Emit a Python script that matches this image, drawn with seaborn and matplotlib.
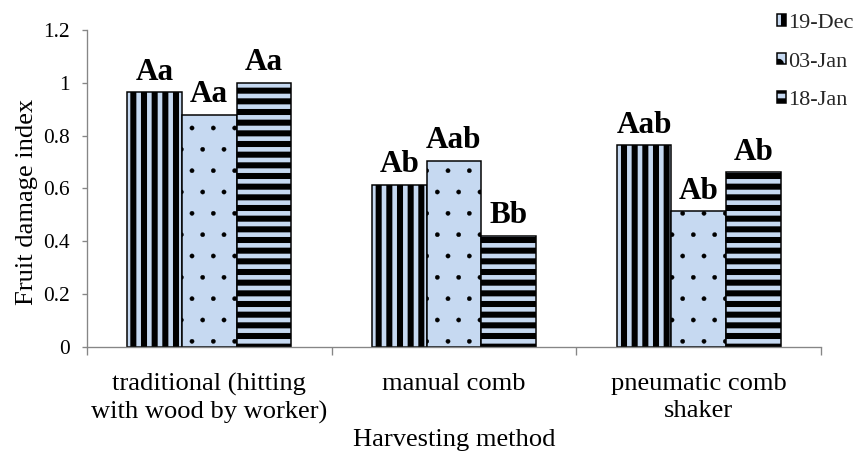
import numpy as np
import pandas as pd
import matplotlib
matplotlib.use("Agg")
import matplotlib.pyplot as plt
import seaborn as sns
from matplotlib.patches import Patch

# ---------------- data ----------------
methods = ["traditional (hitting\nwith wood by worker)", "manual comb", "pneumatic comb\nshaker"]
dates = ["19-Dec", "03-Jan", "18-Jan"]
dec19 = [0.965, 0.615, 0.765]
jan03 = [0.879, 0.705, 0.513]
jan18 = [1.001, 0.421, 0.662]
letters_dec19 = ["Aa", "Ab", "Aab"]
letters_jan03 = ["Aa", "Aab", "Ab"]
letters_jan18 = ["Aa", "Bb", "Ab"]
yticks = [0, 0.2, 0.4, 0.6, 0.8, 1.0, 1.2]
ytick_labels = ["0", "0.2", "0.4", "0.6", "0.8", "1", "1.2"]

df = pd.DataFrame({
    "method": methods * 3,
    "date": [dates[0]] * 3 + [dates[1]] * 3 + [dates[2]] * 3,
    "value": dec19 + jan03 + jan18,
})

# ---------------- style ----------------
sns.set_theme(style="white")
plt.rcParams["font.family"] = ["Liberation Serif", "DejaVu Serif"]
plt.rcParams["hatch.linewidth"] = 3.4
plt.rcParams["hatch.color"] = "black"

DPI = 128
FILL = "#C6D9F1"
GREY = "#868686"
hatches = ["||", ".", "--"]
hatch_lw = [3.4, 0.2, 3.4]

fig = plt.figure(figsize=(856 / DPI, 451 / DPI), dpi=DPI)
ax = fig.add_axes([0.1016, 0.2306, 0.8575, 0.7029])

sns.barplot(data=df, x="method", y="value", hue="date", order=methods,
            hue_order=dates, palette=[FILL] * 3, saturation=1,
            edgecolor="black", linewidth=0.85, width=0.67,
            errorbar=None, ax=ax)

letters = [letters_dec19, letters_jan03, letters_jan18]
for cont, h, hl, labs in zip(ax.containers, hatches, hatch_lw, letters):
    for bar in cont:
        bar.set_hatch(h)
        if hasattr(bar, "set_hatch_linewidth"):
            bar.set_hatch_linewidth(hl)
    ax.bar_label(cont, labels=labs, padding=3.0, fontsize=17.5,
                 fontweight="bold", color="black")

if ax.get_legend() is not None:
    ax.get_legend().remove()

handles = []
for h, hl in zip(hatches, hatch_lw):
    p = Patch(facecolor=FILL, edgecolor="black", hatch=h, linewidth=0.85)
    if hasattr(p, "set_hatch_linewidth"):
        p.set_hatch_linewidth(hl)
    handles.append(p)
fig.legend(handles, dates, loc="upper left",
           bbox_to_anchor=(777 / 856, 1 - 14 / 451), frameon=False,
           fontsize=12.5, handlelength=0.42, handleheight=0.42,
           handletextpad=0.1, labelspacing=0.88, borderpad=0,
           borderaxespad=0)

# axes
ax.set_xlim(-0.5, 2.5)
ax.set_ylim(0, 1.2)
ax.set_yticks(yticks)
ax.set_yticklabels(ytick_labels)
ax.set_xticks([0, 1, 2])
ax.set_xticklabels(methods, linespacing=1.3)
ax.set_xticks([-0.5, 0.5, 1.5, 2.5], minor=True)
ax.tick_params(axis="x", which="major", length=0, pad=14.5, labelsize=14.9,
               labelcolor="black")
ax.tick_params(axis="x", which="minor", length=4.5, width=0.75, color=GREY,
               direction="out", bottom=True)
ax.tick_params(axis="y", which="major", length=2.8, width=0.75, color=GREY,
               direction="out", left=True, pad=6.7, labelsize=12,
               labelcolor="black")

for s in ["top", "right"]:
    ax.spines[s].set_visible(False)
for s in ["left", "bottom"]:
    ax.spines[s].set_color(GREY)
    ax.spines[s].set_linewidth(0.75)

ax.set_xlabel("Harvesting method", fontsize=14.9, color="black")
ax.set_ylabel("Fruit damage index", fontsize=14.9, color="black")
ax.xaxis.set_label_coords(0.5, -0.259)
ax.yaxis.set_label_coords(-0.0668, 0.459)
ax.set_facecolor("white")
fig.patch.set_facecolor("white")

fig.savefig("out.png", dpi=DPI, facecolor="white")
